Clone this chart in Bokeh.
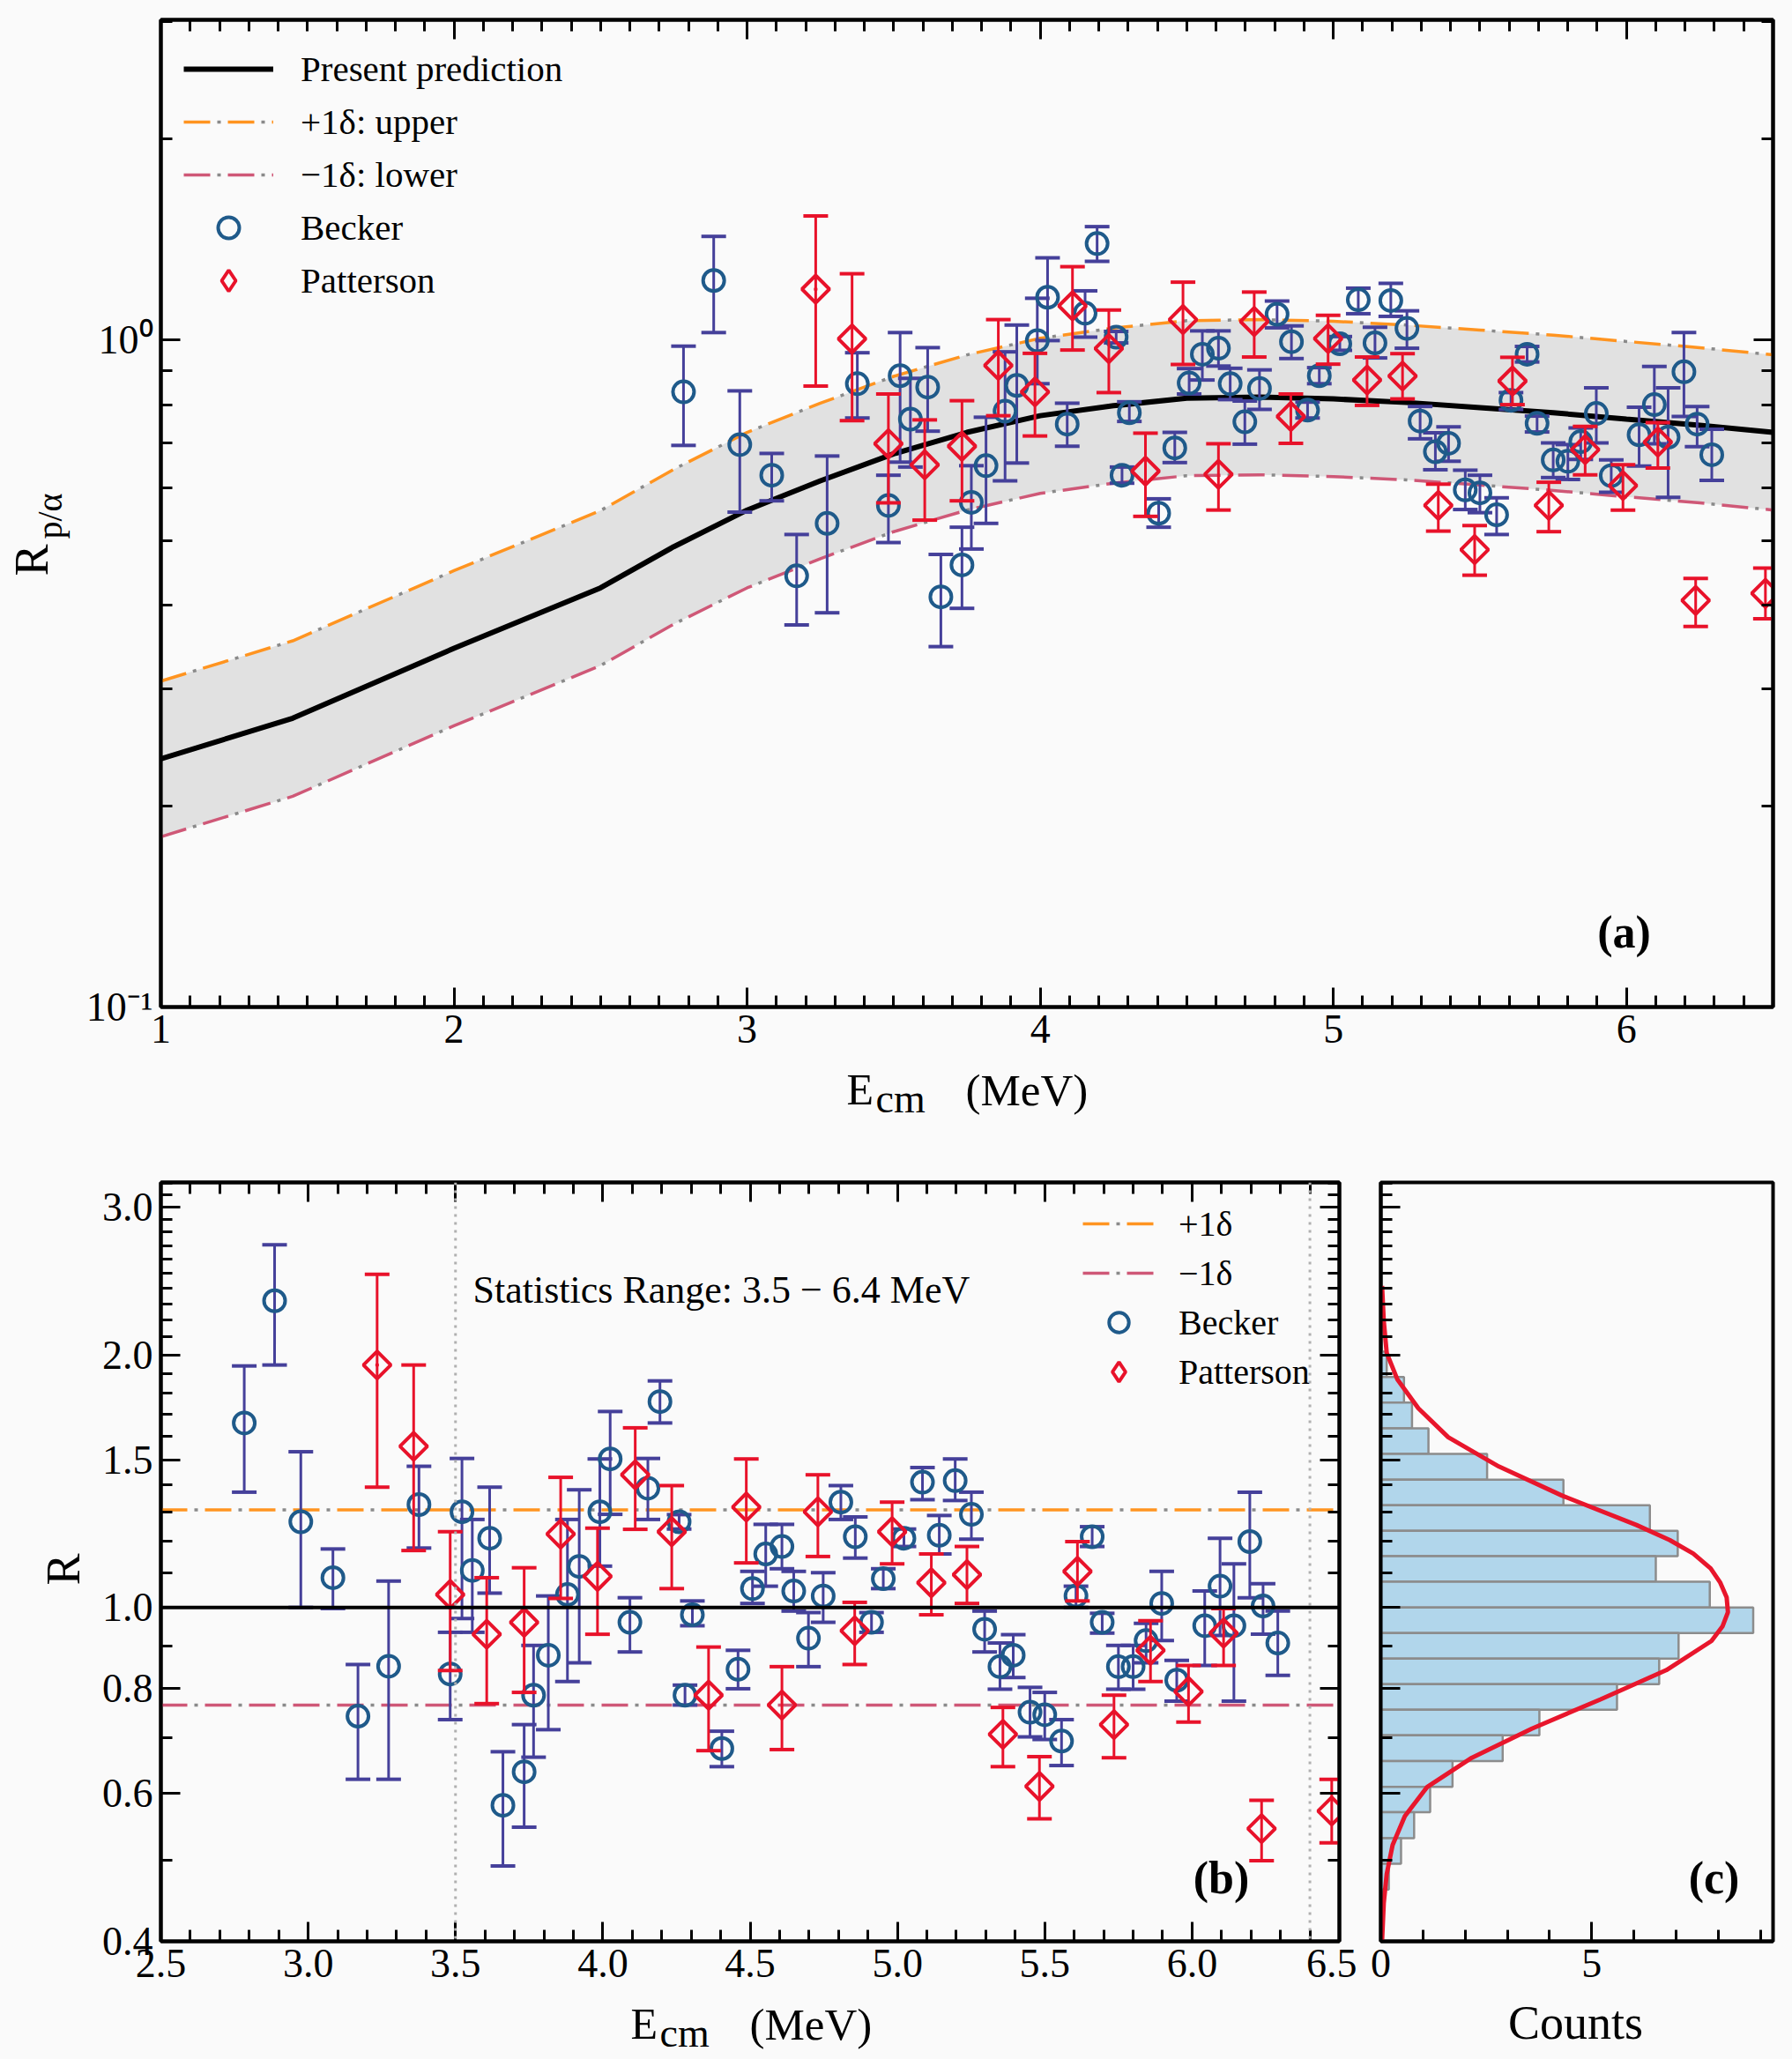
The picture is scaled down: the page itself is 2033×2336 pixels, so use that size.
import numpy as np
from bokeh.plotting import figure
from bokeh.models import (Range1d, LinearAxis, LogAxis, FixedTicker, Legend, LegendItem,
                          Label, Span, PrintfTickFormatter, CustomJSTickFormatter)
from bokeh.layouts import column, row
from bokeh.embed import file_html
from bokeh.resources import INLINE

# ------------------------------------------------------------------ data
pred_E = [1.0, 1.45, 2.0, 2.5, 2.75, 3.0, 3.25, 3.5, 3.75, 4.0, 4.25, 4.5, 4.75,
          5.0, 5.25, 5.5, 5.75, 6.0, 6.25, 6.5]
pred_R = [0.2355, 0.271, 0.345, 0.425, 0.49, 0.556, 0.615, 0.675, 0.727, 0.77, 0.797,
          0.818, 0.821, 0.816, 0.806, 0.792, 0.778, 0.761, 0.745, 0.727]
pred_up = [0.308, 0.354, 0.451, 0.555, 0.640, 0.727, 0.804, 0.882, 0.950, 1.006, 1.042,
           1.069, 1.073, 1.067, 1.053, 1.035, 1.017, 0.995, 0.974, 0.950]
pred_lo = [0.180, 0.207, 0.264, 0.325, 0.375, 0.425, 0.470, 0.516, 0.556, 0.589, 0.610,
           0.626, 0.628, 0.624, 0.617, 0.606, 0.595, 0.582, 0.570, 0.556]

becker_E = [2.783, 2.886, 2.975, 3.084, 3.169, 3.273, 3.376, 3.482, 3.522, 3.557, 3.616,
            3.661, 3.733, 3.765, 3.815, 3.88, 3.92, 3.99, 4.025, 4.092, 4.153, 4.194,
            4.259, 4.279, 4.304, 4.404, 4.459, 4.508, 4.553, 4.608, 4.648, 4.698, 4.748,
            4.808, 4.857, 4.912, 4.952, 5.022, 5.085, 5.142, 5.196, 5.251, 5.296, 5.348,
            5.393, 5.45, 5.5, 5.557, 5.606, 5.661, 5.695, 5.75, 5.8, 5.844, 5.897, 5.948,
            6.043, 6.095, 6.142, 6.196, 6.241, 6.291]
becker_a = [0.836, 1.228, 0.697, 0.627, 0.443, 0.531, 0.86, 0.565, 0.884, 0.761, 0.85,
            0.412, 0.46, 0.571, 0.648, 0.782, 0.855, 0.998, 1.159, 0.748, 1.097, 1.395,
            1.01, 0.627, 0.778, 0.55, 0.689, 0.862, 0.952, 0.972, 0.86, 0.754, 0.846,
            1.093, 0.994, 0.785, 0.884, 0.987, 1.149, 0.99, 1.146, 1.041, 0.756, 0.68,
            0.70, 0.596, 0.59, 0.547, 0.812, 0.952, 0.75, 0.661, 0.658, 0.704, 0.776, 0.626,
            0.721, 0.80, 0.715, 0.896, 0.748, 0.673]
becker_a_lo = [0.695, 1.026, 0.552, 0.574, 0.374, 0.39, 0.764, 0.497, 0.656, 0.645, 0.73,
               0.347, 0.396, 0.486, 0.531, 0.615, 0.654, 0.86, 0.998, 0.693, 1.01, 1.312,
               0.99, 0.61, 0.755, 0.524, 0.655, 0.83, 0.871, 0.914, 0.814, 0.698, 0.787,
               1.043, 0.938, 0.764, 0.86, 0.965, 1.095, 0.94, 1.085, 0.972, 0.711, 0.639,
               0.658, 0.557, 0.551, 0.511, 0.787, 0.927, 0.728, 0.622, 0.618, 0.662, 0.701,
               0.591, 0.647, 0.699, 0.581, 0.768, 0.692, 0.616]
becker_a_hi = [0.979, 1.43, 0.839, 0.676, 0.511, 0.67, 0.957, 0.627, 1.026, 0.876, 0.974,
               0.477, 0.524, 0.648, 0.766, 0.96, 1.053, 1.155, 1.328, 0.804, 1.185, 1.479,
               1.03, 0.645, 0.808, 0.578, 0.727, 0.906, 1.032, 1.032, 0.907, 0.81, 0.902,
               1.144, 1.05, 0.807, 0.909, 1.012, 1.196, 1.045, 1.216, 1.106, 0.795, 0.726,
               0.741, 0.638, 0.627, 0.58, 0.834, 0.978, 0.769, 0.701, 0.697, 0.738, 0.848,
               0.661, 0.793, 0.913, 0.848, 1.026, 0.795, 0.735]
becker_R = [1.659, 2.32, 1.265, 1.085, 0.742, 0.851, 1.326, 0.833, 1.30, 1.107, 1.209,
            0.581, 0.637, 0.786, 0.877, 1.036, 1.119, 1.30, 1.503, 0.96, 1.387, 1.759,
            1.265, 0.786, 0.98, 0.679, 0.844, 1.053, 1.158, 1.182, 1.046, 0.919, 1.032,
            1.335, 1.214, 0.96, 1.082, 1.209, 1.41, 1.219, 1.416, 1.291, 0.942, 0.85,
            0.877, 0.75, 0.745, 0.693, 1.032, 1.214, 0.96, 0.85, 0.85, 0.913, 1.011, 0.819,
            0.951, 1.06, 0.951, 1.198, 1.004, 0.907]
becker_R_lo = [1.372, 1.945, 1.0, 0.997, 0.624, 0.624, 1.177, 0.735, 0.97, 0.934, 1.04,
               0.492, 0.547, 0.663, 0.715, 0.816, 0.859, 1.12, 1.291, 0.885, 1.273, 1.659,
               1.24, 0.765, 0.951, 0.646, 0.80, 1.011, 1.06, 1.112, 0.99, 0.85, 0.96,
               1.273, 1.145, 0.934, 1.053, 1.182, 1.344, 1.158, 1.341, 1.206, 0.885, 0.799,
               0.825, 0.701, 0.696, 0.648, 1.0, 1.182, 0.932, 0.799, 0.799, 0.859, 0.913,
               0.773, 0.853, 0.926, 0.773, 1.027, 0.929, 0.83]
becker_R_hi = [1.94, 2.705, 1.533, 1.174, 0.855, 1.075, 1.473, 0.934, 1.505, 1.273, 1.391,
               0.673, 0.725, 0.901, 1.032, 1.273, 1.381, 1.503, 1.712, 1.027, 1.505, 1.862,
               1.29, 0.808, 1.018, 0.712, 0.889, 1.104, 1.256, 1.256, 1.104, 0.986, 1.10,
               1.397, 1.282, 0.986, 1.112, 1.24, 1.468, 1.287, 1.503, 1.372, 0.99, 0.907,
               0.928, 0.803, 0.792, 0.735, 1.06, 1.248, 0.984, 0.901, 0.901, 0.957, 1.104,
               0.865, 1.046, 1.209, 1.127, 1.372, 1.067, 0.99]

patterson_E = [3.234, 3.358, 3.482, 3.606, 3.733, 3.857, 3.982, 4.11, 4.234, 4.359, 4.487,
               4.608, 4.73, 4.855, 4.982, 5.115, 5.236, 5.358, 5.482, 5.611, 5.735, 5.859,
               5.988, 6.107, 6.236, 6.474]
patterson_a = [1.192, 1.004, 0.699, 0.65, 0.693, 0.916, 0.836, 1.125, 0.971, 0.636, 1.073,
               0.629, 1.066, 0.768, 1.005, 0.871, 0.883, 0.565, 0.485, 0.868, 0.565, 0.685,
               0.605, 0.703, 0.407, 0.417]
patterson_a_lo = [0.853, 0.757, 0.57, 0.537, 0.574, 0.77, 0.718, 0.966, 0.834, 0.544, 0.919,
                  0.556, 0.943, 0.70, 0.92, 0.798, 0.816, 0.517, 0.444, 0.80, 0.516, 0.628,
                  0.556, 0.643, 0.372, 0.382]
patterson_a_hi = [1.534, 1.257, 0.83, 0.759, 0.811, 1.073, 0.955, 1.288, 1.109, 0.725, 1.221,
                  0.699, 1.18, 0.83, 1.089, 0.943, 0.954, 0.608, 0.527, 0.942, 0.612, 0.742,
                  0.65, 0.752, 0.439, 0.455]
patterson_R = [1.945, 1.556, 1.036, 0.929, 0.96, 1.223, 1.089, 1.439, 1.231, 0.786, 1.317,
               0.765, 1.30, 0.938, 1.231, 1.07, 1.094, 0.706, 0.612, 1.104, 0.725, 0.889,
               0.794, 0.932, 0.545, 0.572]
patterson_R_lo = [1.391, 1.169, 0.841, 0.768, 0.792, 1.025, 0.929, 1.239, 1.053, 0.675, 1.13,
                  0.677, 1.15, 0.855, 1.127, 0.98, 1.011, 0.646, 0.56, 1.018, 0.662, 0.816,
                  0.73, 0.853, 0.499, 0.524]
patterson_R_hi = [2.494, 1.945, 1.231, 1.085, 1.115, 1.429, 1.243, 1.637, 1.397, 0.897, 1.503,
                  0.85, 1.439, 1.014, 1.335, 1.158, 1.182, 0.76, 0.664, 1.198, 0.786, 0.964,
                  0.853, 0.997, 0.589, 0.624]

delta_up = 1.307
delta_lo = 0.765
stat_range = [3.5, 6.4]

hist_edges = [2.018, 1.882, 1.754, 1.635, 1.524, 1.420, 1.324, 1.234, 1.151, 1.073, 1.0,
              0.932, 0.869, 0.810, 0.755, 0.704, 0.656, 0.611, 0.570, 0.531, 0.495, 0.461]
hist_counts = [0.14, 0.55, 0.74, 1.13, 2.52, 4.33, 6.38, 7.04, 6.52, 7.8, 8.83, 7.06, 6.6,
               5.6, 3.76, 2.89, 1.70, 1.17, 0.79, 0.48, 0.19]

gauss_R = [2.416, 2.196, 2.011, 1.871, 1.727, 1.595, 1.472, 1.359, 1.254, 1.203, 1.159,
           1.113, 1.070, 1.028, 0.987, 0.949, 0.912, 0.842, 0.777, 0.717, 0.662, 0.611,
           0.564, 0.521, 0.481, 0.444, 0.40]
gauss_N = [0.03, 0.07, 0.14, 0.39, 0.89, 1.6, 2.8, 4.3, 6.06, 6.85, 7.41, 7.82, 8.05,
           8.2, 8.23, 8.1, 7.84, 6.77, 5.21, 3.58, 2.16, 1.1, 0.57, 0.28, 0.14, 0.07, 0.03]

# ------------------------------------------------------------------ style
FONT = "Liberation Serif"
BG = "#fafafa"
BECK_BAR = "#45409a"
BECK_MK = "#1f5a8a"
PAT = "#e8122a"
ORANGE = "#ff9420"
PINK = "#cf5877"
DOT = "#8a8a8a"
TICK_FONT = "46px"
BLANK = CustomJSTickFormatter(code="return ''")


def base_fig(w, h, xr, yr, bl, br, bt, bb, ylog=True):
    p = figure(width=w, height=h, x_range=Range1d(*xr), y_range=Range1d(*yr),
               y_axis_type="log" if ylog else "linear", output_backend="svg",
               toolbar_location=None, min_border_left=bl, min_border_right=br,
               min_border_top=bt, min_border_bottom=bb)
    p.background_fill_color = BG
    p.border_fill_color = BG
    p.outline_line_color = "black"
    p.outline_line_width = 4
    p.xgrid.visible = False
    p.ygrid.visible = False
    return p


def text_strip(w, h):
    """A blank canvas used only to hold axis titles."""
    s = figure(width=w, height=h, x_range=Range1d(0, w), y_range=Range1d(0, h),
               x_axis_type=None, y_axis_type=None, output_backend="svg",
               toolbar_location=None, min_border=0, min_border_left=0, min_border_right=0,
               min_border_top=0, min_border_bottom=0)
    s.background_fill_color = BG
    s.border_fill_color = BG
    s.outline_line_color = None
    s.xgrid.visible = False
    s.ygrid.visible = False
    return s


def style_axis(ax, ticker, labels=True, fmt=None, overrides=None):
    ax.ticker = ticker
    ax.axis_line_width = 4
    ax.axis_line_color = "black"
    ax.major_tick_in = 22
    ax.major_tick_out = 0
    ax.minor_tick_in = 13
    ax.minor_tick_out = 0
    ax.major_tick_line_width = 3
    ax.minor_tick_line_width = 3
    ax.major_label_text_font = FONT
    ax.major_label_text_color = "black"
    if labels:
        ax.major_label_text_font_size = TICK_FONT
        ax.major_label_standoff = 9
        if fmt is not None:
            ax.formatter = fmt
    else:
        ax.major_label_text_font_size = "2px"
        ax.major_label_standoff = 0
        ax.formatter = BLANK
    if overrides is not None:
        ax.major_label_overrides = overrides
    ax.axis_label = None


def minor_list(lo, hi, step, majors):
    vals = np.round(np.arange(lo, hi + step / 2, step), 3)
    return [float(v) for v in vals if not any(abs(v - m) < 1e-6 for m in majors)]


def lab(p, text, x, y, size, align="left", baseline="middle", angle=0.0, bold=False):
    p.add_layout(Label(x=x, y=y, x_units="screen", y_units="screen", text=text,
                       text_font=FONT, text_font_size=f"{size}px", text_align=align,
                       text_baseline=baseline, angle=angle, text_color="black",
                       text_font_style="bold" if bold else "normal"))


def errbars(p, xs, lo, hi, val, bar_color, mk_color, marker, size, angle=0.0):
    p.segment(x0=xs, y0=lo, x1=xs, y1=hi, line_color=bar_color, line_width=3)
    p.scatter(x=xs, y=lo, marker="dash", size=28, line_color=bar_color, line_width=4)
    p.scatter(x=xs, y=hi, marker="dash", size=28, line_color=bar_color, line_width=4)
    return p.scatter(x=xs, y=val, marker=marker, size=size, angle=angle, fill_color=None,
                     line_color=mk_color, line_width=4)


def make_legend(items, loc, margin, gw, gh, standoff, font, label_width=20):
    return Legend(items=items, location=loc, margin=margin, padding=0, spacing=0,
                  glyph_width=gw, glyph_height=gh, label_height=gh, label_standoff=standoff,
                  label_width=label_width, label_text_font=FONT, label_text_font_size=font,
                  label_text_color="black", border_line_color=None,
                  background_fill_alpha=0.0)


# ------------------------------------------------------------------ panel (a)
pa = base_fig(1949, 1204, (1.0, 6.5), (0.1, 3.02), 98, 22, 22, 62)
xa_major = [1, 2, 3, 4, 5, 6]
ya_major = [0.1, 1.0]
ya_minor = [0.2, 0.3, 0.4, 0.5, 0.6, 0.7, 0.8, 0.9, 2.0, 3.0]
style_axis(pa.xaxis[0], FixedTicker(ticks=xa_major, minor_ticks=minor_list(1.0, 6.5, 0.1, xa_major)))
style_axis(pa.yaxis[0], FixedTicker(ticks=ya_major, minor_ticks=ya_minor),
           overrides={0.1: "10\u207b\u00b9", 1.0: "10\u2070"})
ax_top = LinearAxis()
style_axis(ax_top, FixedTicker(ticks=xa_major, minor_ticks=minor_list(1.0, 6.5, 0.1, xa_major)),
           labels=False)
pa.add_layout(ax_top, "above")
ax_right = LogAxis()
style_axis(ax_right, FixedTicker(ticks=ya_major, minor_ticks=ya_minor), labels=False)
pa.add_layout(ax_right, "right")

pa.varea(x=pred_E, y1=pred_lo, y2=pred_up, fill_color="#d4d4d4", fill_alpha=0.65)
up_o = pa.line(pred_E, pred_up, line_color=ORANGE, line_width=3.5, line_dash="30 20")
up_g = pa.line(pred_E, pred_up, line_color=DOT, line_width=3.5, line_dash="4 46",
               line_dash_offset=12)
lo_o = pa.line(pred_E, pred_lo, line_color=PINK, line_width=3.5, line_dash="30 20")
lo_g = pa.line(pred_E, pred_lo, line_color=DOT, line_width=3.5, line_dash="4 46",
               line_dash_offset=12)
pr = pa.line(pred_E, pred_R, line_color="black", line_width=6)

b_mk_a = errbars(pa, becker_E, becker_a_lo, becker_a_hi, becker_a, BECK_BAR, BECK_MK, "circle", 24)
errbars(pa, patterson_E, patterson_a_lo, patterson_a_hi, patterson_a, PAT, PAT,
        "square", 22, angle=np.pi / 4)
# legend-only diamond (drawn at size 1 under a red error bar; legend uses its own size)
p_leg_a = pa.scatter(x=patterson_E[:1], y=patterson_a[:1], marker="diamond", size=1,
                     fill_color=None, line_color=PAT, line_width=4)

leg_a = make_legend([
    LegendItem(label="Present prediction", renderers=[pr]),
    LegendItem(label="+1\u03b4: upper", renderers=[up_o, up_g]),
    LegendItem(label="\u22121\u03b4: lower", renderers=[lo_o, lo_g]),
    LegendItem(label="Becker", renderers=[b_mk_a]),
    LegendItem(label="Patterson", renderers=[p_leg_a]),
], "top_left", 26, 102, 60, 31, "41px")
pa.add_layout(leg_a)
lab(pa, "(a)", 1660, 85, 52, align="center", bold=True)

ya_strip = text_strip(84, 1204)
lab(ya_strip, "R", 35, 507, 54, align="center", angle=np.pi / 2)
lab(ya_strip, "p/\u03b1", 56, 557, 40, align="center", angle=np.pi / 2)

xa_strip = text_strip(2033, 86)
lab(xa_strip, "E", 960, 55, 50)
lab(xa_strip, "cm", 993, 44, 46)
lab(xa_strip, "(MeV)", 1095, 54, 51)

# ------------------------------------------------------------------ panel (b)
pb = base_fig(1429, 972, (2.5, 6.5), (0.4, 3.21), 72, 20, 51, 60)
xb_major = [2.5, 3.0, 3.5, 4.0, 4.5, 5.0, 5.5, 6.0, 6.5]
yb_major = [0.4, 0.6, 0.8, 1.0, 1.5, 2.0, 3.0]
yb_minor = [0.5, 0.7, 0.9, 1.1, 1.2, 1.3, 1.4, 1.6, 1.7, 1.8, 1.9, 2.1, 2.2, 2.3, 2.4,
            2.5, 2.6, 2.7, 2.8, 2.9, 3.1, 3.2]
style_axis(pb.xaxis[0], FixedTicker(ticks=xb_major, minor_ticks=minor_list(2.5, 6.5, 0.1, xb_major)),
           fmt=PrintfTickFormatter(format="%.1f"))
style_axis(pb.yaxis[0], FixedTicker(ticks=yb_major, minor_ticks=yb_minor),
           fmt=PrintfTickFormatter(format="%.1f"))
bt = LinearAxis()
style_axis(bt, FixedTicker(ticks=xb_major, minor_ticks=minor_list(2.5, 6.5, 0.1, xb_major)),
           labels=False)
pb.add_layout(bt, "above")
br = LogAxis()
style_axis(br, FixedTicker(ticks=yb_major, minor_ticks=yb_minor), labels=False)
pb.add_layout(br, "right")

for xv in stat_range:
    pb.add_layout(Span(location=xv, dimension="height", line_color="#b0b0b0",
                       line_width=3, line_dash="3 6"))
x_span = [xb_major[0], xb_major[-1]]
lu_o = pb.line(x=x_span, y=[delta_up, delta_up], line_color=ORANGE, line_width=3.5,
               line_dash="30 20")
lu_g = pb.line(x=x_span, y=[delta_up, delta_up], line_color=DOT, line_width=3.5,
               line_dash="4 46", line_dash_offset=12)
ll_o = pb.line(x=x_span, y=[delta_lo, delta_lo], line_color=PINK, line_width=3.5,
               line_dash="30 20")
ll_g = pb.line(x=x_span, y=[delta_lo, delta_lo], line_color=DOT, line_width=3.5,
               line_dash="4 46", line_dash_offset=12)
pb.add_layout(Span(location=1.0, dimension="width", line_color="black", line_width=4))

b_mk_b = errbars(pb, becker_E, becker_R_lo, becker_R_hi, becker_R, BECK_BAR, BECK_MK, "circle", 24)
errbars(pb, patterson_E, patterson_R_lo, patterson_R_hi, patterson_R, PAT, PAT,
        "square", 22, angle=np.pi / 4)
p_leg_b = pb.scatter(x=patterson_E[:1], y=patterson_R[:1], marker="diamond", size=1,
                     fill_color=None, line_color=PAT, line_width=4)
leg_b = make_legend([
    LegendItem(label="+1\u03b4", renderers=[lu_o, lu_g]),
    LegendItem(label="\u22121\u03b4", renderers=[ll_o, ll_g]),
    LegendItem(label="Becker", renderers=[b_mk_b]),
    LegendItem(label="Patterson", renderers=[p_leg_b]),
], "top_right", 19, 82, 56, 27, "40px", label_width=163)
pb.add_layout(leg_b)

lab(pb, "Statistics Range: 3.5 \u2212 6.4 MeV", 354, 739, 44)
lab(pb, "(b)", 1203, 72, 52, align="center", bold=True)

yb_strip = text_strip(110, 972)
lab(yb_strip, "R", 71, 422, 54, align="center", angle=np.pi / 2)

# ------------------------------------------------------------------ panel (c)
pc = base_fig(494, 972, (0.0, 9.3), (0.4, 3.21), 27, 22, 51, 60)
style_axis(pc.xaxis[0], FixedTicker(ticks=[0, 5], minor_ticks=[1, 2, 3, 4, 6, 7, 8, 9]))
style_axis(pc.yaxis[0], FixedTicker(ticks=yb_major, minor_ticks=yb_minor), labels=False)

pc.quad(left=0, right=hist_counts, top=hist_edges[:-1], bottom=hist_edges[1:],
        fill_color="#a9d2e9", fill_alpha=0.9, line_color="#8c8c8c", line_width=2.5)
pc.line(gauss_N, gauss_R, line_color="#e8162c", line_width=5)
lab(pc, "(c)", 378, 72, 52, align="center", bold=True)

xb_strip = text_strip(2033, 74)
lab(xb_strip, "E", 715, 41, 50)
lab(xb_strip, "cm", 748, 30, 46)
lab(xb_strip, "(MeV)", 850, 40, 51)
lab(xb_strip, "Counts", 1787, 42, 54, align="center")

layout = column(row(ya_strip, pa), xa_strip, row(yb_strip, pb, pc), xb_strip)
html = file_html(layout, INLINE)
html = html.replace("<head>", "<head><style>body{background:#fafafa;}</style>", 1)
open("out.html", "w").write(html)
